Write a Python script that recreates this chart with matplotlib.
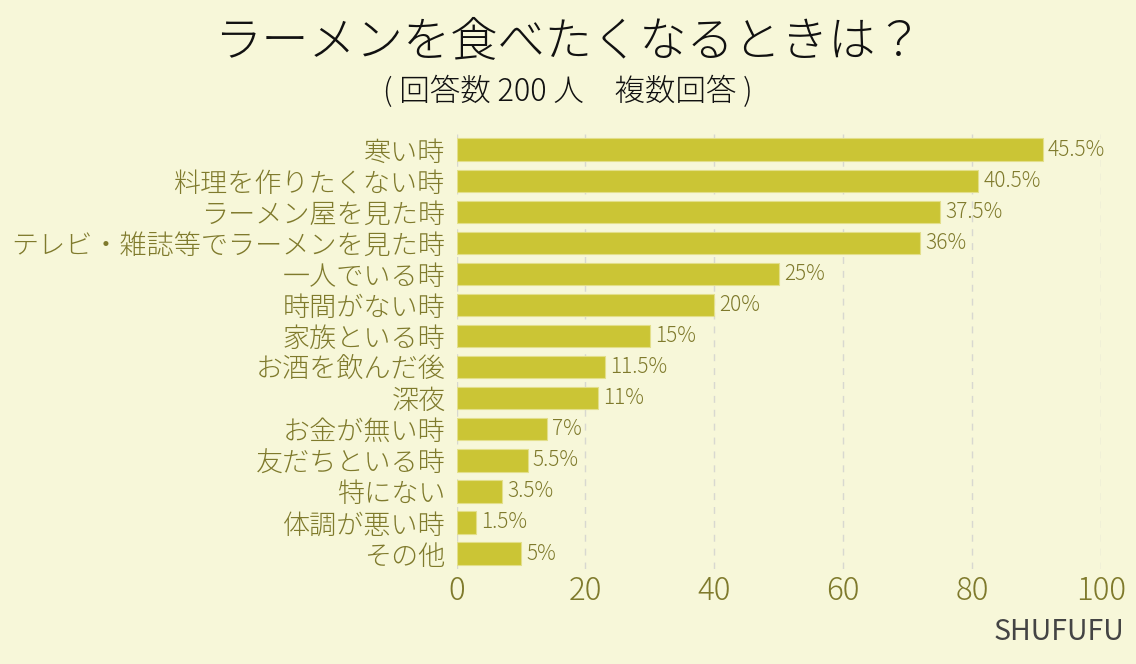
import matplotlib
matplotlib.use("Agg")
import matplotlib.pyplot as plt

plt.rcParams['font.family'] = ['Noto Sans CJK JP', 'DejaVu Sans']

# --- Data ---
labels = ["寒い時", "料理を作りたくない時", "ラーメン屋を見た時", "テレビ・雑誌等でラーメンを見た時",
          "一人でいる時", "時間がない時", "家族といる時", "お酒を飲んだ後", "深夜",
          "お金が無い時", "友だちといる時", "特にない", "体調が悪い時", "その他"]
counts = [91, 81, 75, 72, 50, 40, 30, 23, 22, 14, 11, 7, 3, 10]
pct_labels = ["45.5%", "40.5%", "37.5%", "36%", "25%", "20%", "15%", "11.5%", "11%",
              "7%", "5.5%", "3.5%", "1.5%", "5%"]
ticks = [0, 20, 40, 60, 80, 100]

bg = "#f7f7d9"
bar_color = "#cbc535"
text_color = "#7f7a2c"

fig = plt.figure(figsize=(11.36, 6.64), dpi=100, facecolor=bg)
ax = fig.add_axes([0.402, 0.143, 0.567, 0.655], facecolor=bg)

y = list(range(len(labels)))
ax.barh(y, counts, height=0.72, color=bar_color, edgecolor="#e3df8a", linewidth=0.8, zorder=3)
for yi, c, t in zip(y, counts, pct_labels):
    ax.text(c + 0.8, yi, t, va="center", ha="left", fontsize=15, color=text_color,
            fontweight="light", zorder=4)

ax.set_ylim(len(labels) - 0.5, -0.5)
ax.set_xlim(0, 100)
ax.set_yticks(y)
ax.set_yticklabels(labels, fontsize=19.5, color=text_color, fontweight="light")
ax.set_xticks(ticks)
ax.set_xticklabels([str(t) for t in ticks], fontsize=22.5, color=text_color, fontweight="light")
ax.tick_params(axis="both", length=0, pad=4)
ax.tick_params(axis="y", pad=8)
ax.xaxis.grid(True, linestyle=(0, (5, 5)), color="#d8d8d0", linewidth=1, zorder=0)
for s in ax.spines.values():
    s.set_visible(False)

fig.text(0.5, 0.937, "ラーメンを食べたくなるときは？", ha="center", va="center", fontsize=34,
         color="#111111", fontweight="light")
fig.text(0.5, 0.861, "( 回答数 200 人　複数回答 )", ha="center", va="center", fontsize=22,
         color="#111111", fontweight="light")
fig.text(0.99, 0.048, "SHUFUFU", ha="right", va="center", fontsize=20.5, color="#444444")

fig.savefig("out.png", dpi=100, facecolor=bg)
